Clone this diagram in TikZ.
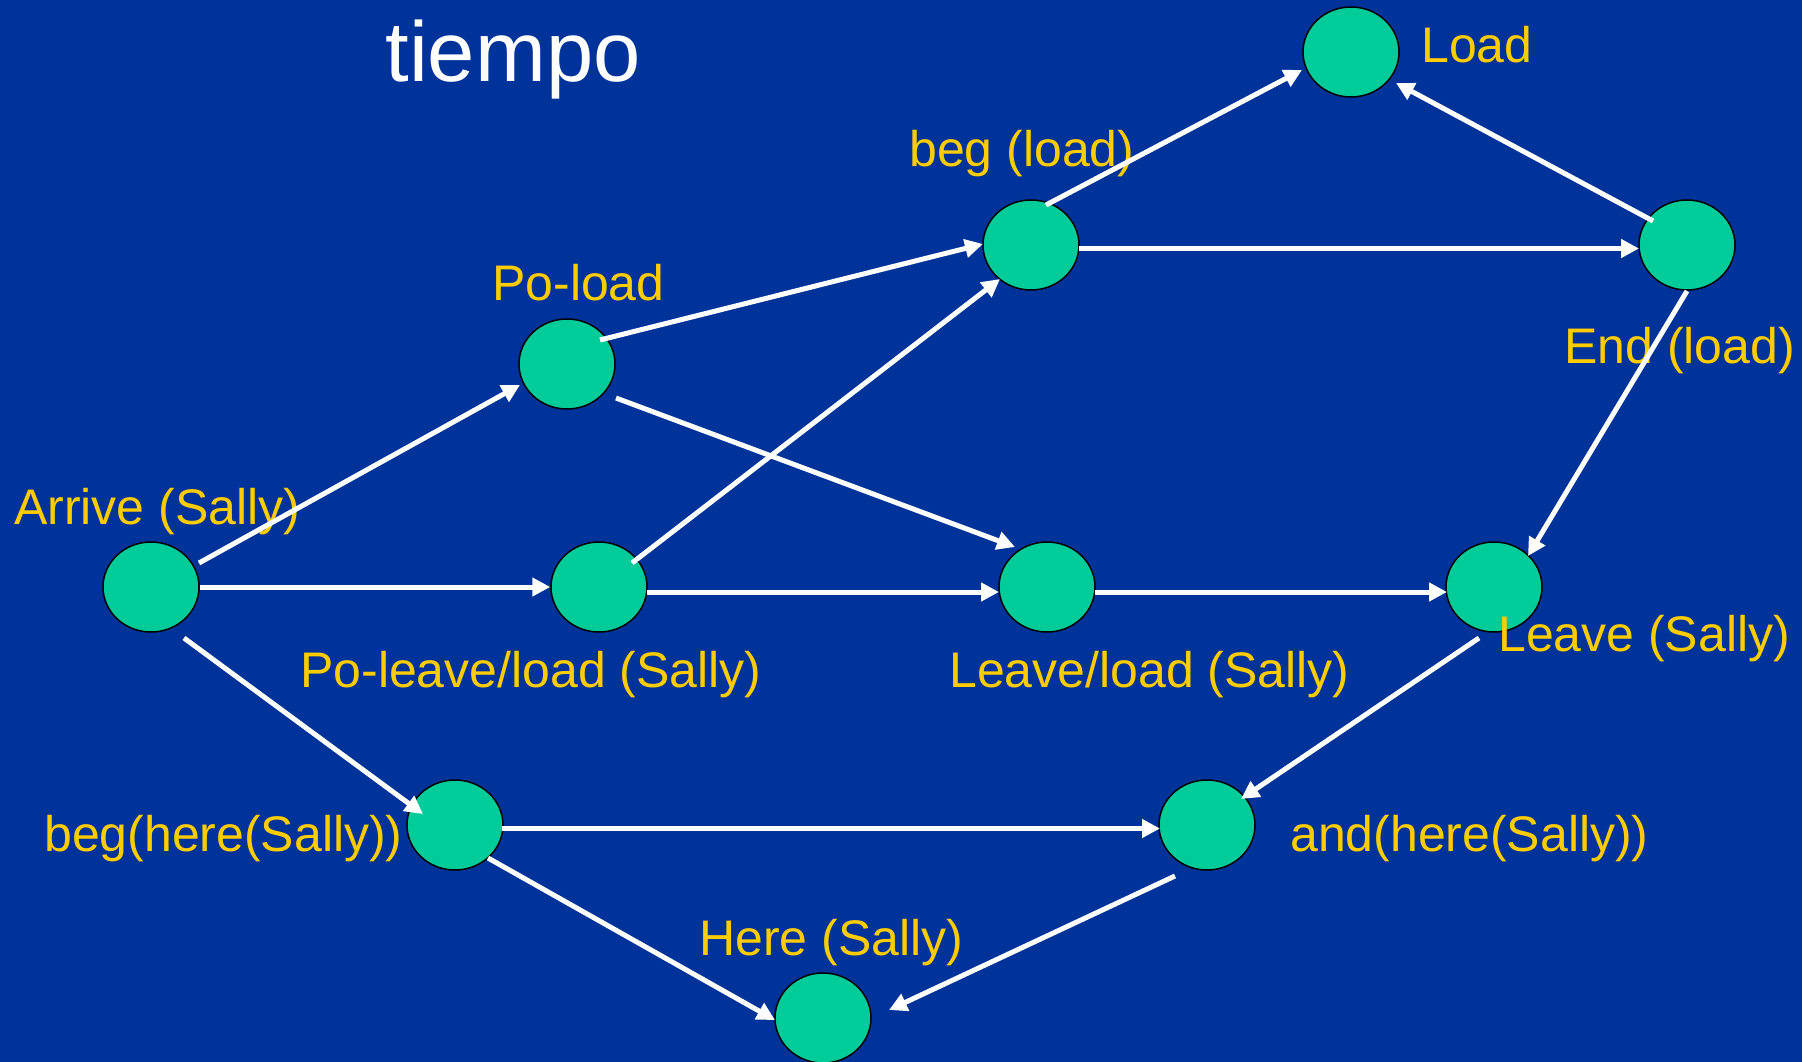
\documentclass[tikz,border=0pt]{standalone}
\usepackage{fontspec}
\setmainfont{Liberation Sans}
\usetikzlibrary{arrows.meta,shapes.geometric}
\definecolor{bgblue}{HTML}{003399}
\definecolor{evgreen}{HTML}{00CC99}
\definecolor{labyellow}{HTML}{FFCC00}
\begin{document}
\begin{tikzpicture}[x=1pt,y=-1pt,
  ev/.style={ellipse, draw=black, line width=1.5pt, fill=evgreen, minimum width=96pt, minimum height=90pt, inner sep=0pt},
  lbl/.style={anchor=base west, text=labyellow, font=\fontsize{50}{60}\selectfont, inner sep=0pt},
  arr/.style={draw=white, line width=5pt, -{Triangle[length=18pt,width=18pt]}}]
\fill[bgblue] (0,0) rectangle (1802,1062);
\useasboundingbox (0,0) rectangle (1802,1062);

\node[text=white, font=\fontsize{85}{100}\selectfont, anchor=base, inner sep=0pt] (title) at (513,82) {tiempo};

\node[ev] (load) at (1351,52) {};
\node[ev] (begload) at (1031,245) {};
\node[ev] (endload) at (1687,245) {};
\node[ev] (poload) at (567,364) {};
\node[ev] (arrive) at (151,587) {};
\node[ev] (poleave) at (599,587) {};
\node[ev] (leaveload) at (1047,587) {};
\node[ev] (leave) at (1494,587) {};
\node[ev] (beghere) at (455,825) {};
\node[ev] (andhere) at (1207,825) {};
\node[ev] (here) at (823,1018) {};

\node[lbl] (tload) at (1421,63) {Load};
\node[lbl] (tbegload) at (909,167) {beg (load)};
\node[lbl] (tendload) at (1564,363) {End (load)};
\node[lbl] (tpoload) at (492,300) {Po-load};
\node[lbl] (tarrive) at (14,524) {Arrive (Sally)};
\node[lbl] (tpoleave) at (300,687) {Po-leave/load (Sally)};
\node[lbl] (tleaveload) at (949,687) {Leave/load (Sally)};
\node[lbl] (tleave) at (1498,651) {Leave (Sally)};
\node[lbl] (tbeghere) at (44,851) {beg(here(Sally))};
\node[lbl] (tandhere) at (1290,851) {and(here(Sally))};
\node[lbl] (there) at (699,955) {Here (Sally)};

\draw[arr] ([shift={(48,-24)}]arrive.center) -- ([shift={(-47,21)}]poload.center);
\draw[arr] (arrive.east) -- (poleave.west);
\draw[arr] ([shift={(33,51)}]arrive.center) -- ([shift={(-32,-11)}]beghere.center);
\draw[arr] ([shift={(33,-24)}]poload.center) -- ([shift={(-48,-1)}]begload.center);
\draw[arr] ([shift={(49,34)}]poload.center) -- ([shift={(-32,-40)}]leaveload.center);
\draw[arr] ([shift={(33,-24)}]poleave.center) -- ([shift={(-31,34)}]begload.center);
\draw[arr] ([shift={(48,5)}]poleave.center) -- ([shift={(-48,5)}]leaveload.center);
\draw[arr] ([shift={(15,-40)}]begload.center) -- ([shift={(-49,18)}]load.center);
\draw[arr] ([shift={(48,3.5)}]begload.center) -- ([shift={(-48,3.5)}]endload.center);
\draw[arr] ([shift={(-34,-24)}]endload.center) -- ([shift={(45,31)}]load.center);
\draw[arr] ([shift={(0,46)}]endload.center) -- ([shift={(34,-31)}]leave.center);
\draw[arr] ([shift={(48,5)}]leaveload.center) -- ([shift={(-47,5)}]leave.center);
\draw[arr] ([shift={(-15,51)}]leave.center) -- ([shift={(34,-26)}]andhere.center);
\draw[arr] ([shift={(47,3.5)}]beghere.center) -- ([shift={(-47,3.5)}]andhere.center);
\draw[arr] ([shift={(33,33)}]beghere.center) -- ([shift={(-48,2)}]here.center);
\draw[arr] ([shift={(-32,51)}]andhere.center) -- ([shift={(66,-8)}]here.center);
\end{tikzpicture}
\end{document}
